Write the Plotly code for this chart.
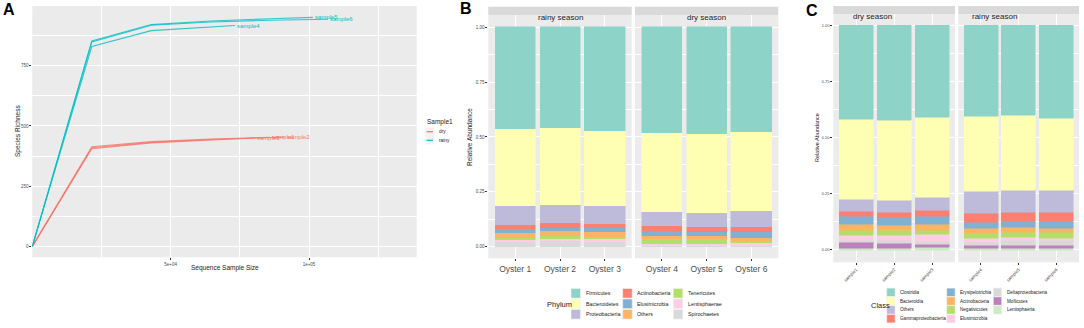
import plotly.graph_objects as go

W, H = 1084, 328
def px(x): return x / W
def py(y): return 1 - y / H

FONT = "Liberation Sans"
BG = "#EBEBEB"
TXT = "#1A1A1A"
TICKC = "#4D4D4D"

# ---------------- Panel A: rarefaction curves ----------------
season_colors = {"dry": "#F8766D", "rainy": "#00BFC4"}
rare_samples = ["sample1", "sample2", "sample3", "sample4", "sample5", "sample6"]
rare_season = ["dry", "dry", "dry", "rainy", "rainy", "rainy"]
s1_size = [1, 21501, 43001, 64501, 85800]
s1_rich = [1, 414, 435, 446, 453]
s2_size = [1, 21501, 43001, 64501, 86001, 91200]
s2_rich = [1, 410, 432, 444, 452, 454]
s3_size = [1, 21501, 43001, 64501, 80400]
s3_rich = [1, 406, 430, 442, 450]
s4_size = [1, 21501, 43001, 64501, 73200]
s4_rich = [1, 829, 895, 912, 916]
s5_size = [1, 21501, 43001, 64501, 86001, 101400]
s5_rich = [1, 852, 920, 935, 944, 950]
s6_size = [1, 21501, 43001, 64501, 86001, 106800]
s6_rich = [1, 848, 917, 931, 938, 942]
rare_sizes = [s1_size, s2_size, s3_size, s4_size, s5_size, s6_size]
rare_rich = [s1_rich, s2_rich, s3_rich, s4_rich, s5_rich, s6_rich]
a_xticks = [50000, 100000]
a_xticklabels = ["5e+04", "1e+05"]
a_yticks = [0, 250, 500, 750]

# ---------------- Panel B: phylum ----------------
b_seasons = ["rainy season", "dry season"]
b_samples = [["Oyster 1", "Oyster 2", "Oyster 3"], ["Oyster 4", "Oyster 5", "Oyster 6"]]
phyla = ["Firmicutes", "Bacteroidetes", "Proteobacteria", "Actinobacteria", "Elusimicrobia",
         "Others", "Tenericutes", "Lentisphaerae", "Spirochaetes"]
firmicutes     = [0.464, 0.457, 0.473, 0.480, 0.488, 0.476]
bacteroidetes  = [0.351, 0.353, 0.340, 0.360, 0.360, 0.360]
proteobacteria = [0.086, 0.083, 0.084, 0.066, 0.061, 0.073]
actinobacteria = [0.020, 0.020, 0.019, 0.024, 0.023, 0.023]
elusimicrobia  = [0.018, 0.017, 0.017, 0.021, 0.019, 0.027]
others_p       = [0.020, 0.021, 0.021, 0.014, 0.014, 0.014]
tenericutes    = [0.010, 0.012, 0.012, 0.023, 0.024, 0.012]
lentisphaerae  = [0.011, 0.011, 0.011, 0.009, 0.008, 0.012]
spirochaetes   = [0.020, 0.026, 0.023, 0.003, 0.003, 0.003]
phylum_values = [firmicutes, bacteroidetes, proteobacteria, actinobacteria, elusimicrobia,
                 others_p, tenericutes, lentisphaerae, spirochaetes]

# ---------------- Panel C: class ----------------
c_seasons = ["dry season", "rainy season"]
c_samples = [["sample1", "sample2", "sample3"], ["sample4", "sample5", "sample6"]]
classes = ["Clostridia", "Bacteroidia", "Others", "Gammaproteobacteria", "Erysipelotrichia",
           "Actinobacteria", "Negativicutes", "Elusimicrobia", "Deltaproteobacteria",
           "Mollicutes", "Lentisphaeria"]
clostridia   = [0.416, 0.422, 0.408, 0.406, 0.401, 0.413]
bacteroidia  = [0.357, 0.358, 0.357, 0.331, 0.332, 0.323]
others_c     = [0.053, 0.052, 0.057, 0.099, 0.099, 0.098]
gammaproteo  = [0.025, 0.022, 0.029, 0.042, 0.039, 0.040]
erysipelo    = [0.034, 0.035, 0.034, 0.027, 0.028, 0.029]
actino_c     = [0.029, 0.025, 0.026, 0.021, 0.022, 0.020]
negativicut  = [0.019, 0.019, 0.019, 0.022, 0.022, 0.023]
elusimic_c   = [0.022, 0.022, 0.030, 0.018, 0.016, 0.013]
deltaproteo  = [0.012, 0.015, 0.015, 0.015, 0.019, 0.019]
mollicutes   = [0.024, 0.021, 0.015, 0.011, 0.014, 0.014]
lentisphaer  = [0.009, 0.009, 0.010, 0.008, 0.008, 0.008]
class_values = [clostridia, bacteroidia, others_c, gammaproteo, erysipelo, actino_c,
                negativicut, elusimic_c, deltaproteo, mollicutes, lentisphaer]

set3 = ["#8DD3C7", "#FFFFB3", "#BEBADA", "#FB8072", "#80B1D3", "#FDB462",
        "#B3DE69", "#FCCDE5", "#D9D9D9", "#BC80BD", "#CCEBC5"]
rel_ticks = [0, 0.25, 0.5, 0.75, 1.0]
rel_ticklabels = ["0.00", "0.25", "0.50", "0.75", "1.00"]

fig = go.Figure()

# Panel A traces
for name, season, xs, ys in zip(rare_samples, rare_season, rare_sizes, rare_rich):
    col = season_colors[season]
    fig.add_trace(go.Scatter(x=xs, y=ys, mode="lines", xaxis="x", yaxis="y",
                             line=dict(color=col, width=1.1), opacity=0.8,
                             showlegend=False, hoverinfo="skip"))
annotations = []
for name, season, xs, ys in zip(rare_samples, rare_season, rare_sizes, rare_rich):
    annotations.append(dict(x=xs[-1], y=ys[-1], xref="x", yref="y", text=name,
                            showarrow=False, xanchor="left", yanchor="middle",
                            font=dict(size=6, color=season_colors[season], family=FONT)))

# Panel B bars (stack bottom -> top)
for k in range(len(phyla) - 1, -1, -1):
    vals = phylum_values[k]
    for f in range(2):
        fig.add_trace(go.Bar(x=b_samples[f], y=vals[3 * f:3 * f + 3],
                             xaxis="x2" if f == 0 else "x3", yaxis="y2" if f == 0 else "y3",
                             width=0.9, marker=dict(color=set3[k], line=dict(color=set3[k], width=0.5)),
                             showlegend=False, name=phyla[k]))
# Panel C bars
for k in range(len(classes) - 1, -1, -1):
    vals = class_values[k]
    for f in range(2):
        fig.add_trace(go.Bar(x=c_samples[f], y=vals[3 * f:3 * f + 3],
                             xaxis="x4" if f == 0 else "x5", yaxis="y4" if f == 0 else "y5",
                             width=0.9, marker=dict(color=set3[k], line=dict(color=set3[k], width=0.5)),
                             showlegend=False, name=classes[k]))

common_axis = dict(showline=False, zeroline=False, gridcolor="white", gridwidth=1,
                   ticks="outside", ticklen=2, tickcolor="#333333", tickwidth=0.6)

def cat_x(domain, anchor, cats, fontsize, angle=0):
    return dict(domain=domain, anchor=anchor, type="category", categoryorder="array",
                categoryarray=cats, range=[-0.6, 2.6], tickangle=angle,
                tickfont=dict(size=fontsize, color=TICKC, family=FONT), showgrid=True,
                fixedrange=True, **common_axis)

def rel_y(domain, anchor, show, rng, fontsize=4.5):
    d = dict(domain=domain, anchor=anchor, range=rng, tickvals=rel_ticks,
             ticktext=rel_ticklabels, showticklabels=show,
             tickfont=dict(size=fontsize, color=TICKC, family=FONT), showgrid=True,
             minor=dict(tickvals=[0.125, 0.375, 0.625, 0.875], showgrid=True,
                        gridcolor="white", gridwidth=0.5, ticks=""), **common_axis)
    if not show:
        d["ticks"] = ""
    return d

b_dom_y = [py(258.3), py(15)]
c_dom_y = [py(262.3), py(14.3)]
b_dom_x = [[px(488.3), px(631.7)], [px(635), px(778.3)]]
c_dom_x = [[px(833.3), px(955)], [px(958.3), px(1079)]]

layout = dict(
    width=W, height=H, margin=dict(l=0, r=0, t=0, b=0),
    paper_bgcolor="white", plot_bgcolor=BG, barmode="stack", bargap=0,
    showlegend=False, font=dict(family=FONT, color=TXT),
    xaxis=dict(domain=[px(32.3), px(416.7)], anchor="y", range=[0, 138900],
               tickvals=a_xticks, ticktext=a_xticklabels,
               tickfont=dict(size=4.5, color=TICKC, family=FONT), showgrid=True,
               minor=dict(tickvals=[25000, 75000, 125000], showgrid=True, gridcolor="white",
                          gridwidth=0.5, ticks=""), **common_axis),
    yaxis=dict(domain=[py(257.3), py(6)], anchor="x", range=[-44, 997],
               tickvals=a_yticks, ticktext=[str(v) for v in a_yticks],
               tickfont=dict(size=4.5, color=TICKC, family=FONT), showgrid=True,
               minor=dict(tickvals=[125, 375, 625, 875], showgrid=True, gridcolor="white",
                          gridwidth=0.5, ticks=""), **common_axis),
    xaxis2=cat_x(b_dom_x[0], "y2", b_samples[0], 8.5),
    xaxis3=cat_x(b_dom_x[1], "y3", b_samples[1], 8.5),
    yaxis2=rel_y(b_dom_y, "x2", True, [-0.0529, 1.056]),
    yaxis3=rel_y(b_dom_y, "x3", False, [-0.0529, 1.056]),
    xaxis4=cat_x(c_dom_x[0], "y4", c_samples[0], 4.5, angle=-45),
    xaxis5=cat_x(c_dom_x[1], "y5", c_samples[1], 4.5, angle=-45),
    yaxis4=rel_y(c_dom_y, "x4", True, [-0.055, 1.051], 4),
    yaxis5=rel_y(c_dom_y, "x5", False, [-0.055, 1.051], 4),
)

shapes = []
# strips
for dom, lab in zip(b_dom_x, b_seasons):
    shapes.append(dict(type="rect", xref="paper", yref="paper", x0=dom[0], x1=dom[1],
                       y0=py(15), y1=py(6.7), fillcolor="#D9D9D9", line=dict(width=0), layer="below"))
    annotations.append(dict(x=(dom[0] + dom[1]) / 2, y=py(10.8), xref="paper", yref="paper",
                            text=lab, showarrow=False, font=dict(size=8, color=TXT, family=FONT)))
for dom, lab in zip(c_dom_x, c_seasons):
    shapes.append(dict(type="rect", xref="paper", yref="paper", x0=dom[0], x1=dom[1],
                       y0=py(14.3), y1=py(6), fillcolor="#D9D9D9", line=dict(width=0), layer="below"))
    annotations.append(dict(x=(dom[0] + dom[1]) / 2, y=py(10.2), xref="paper", yref="paper",
                            text=lab, showarrow=False, font=dict(size=8, color=TXT, family=FONT)))

# axis titles
def txt(x, y, s, size, angle=0, xanchor="center", bold=False, color=TXT):
    annotations.append(dict(x=px(x), y=py(y), xref="paper", yref="paper",
                            text=f"<b>{s}</b>" if bold else s, showarrow=False, textangle=angle,
                            xanchor=xanchor, yanchor="middle",
                            font=dict(size=size, color=color, family=FONT)))

txt(18, 131, "Species Richness", 6.5, angle=-90)
txt(225, 267.5, "Sequence Sample Size", 6.5)
txt(469, 137, "Relative Abundance", 6.5, angle=-90)
txt(817, 138, "Relative Abundance", 5.5, angle=-90)
txt(9, 9, "A", 16, bold=True, color="black")
txt(466, 8.5, "B", 16, bold=True, color="black")
txt(812, 10, "C", 16, bold=True, color="black")

# Panel A legend
txt(425, 122.3, "Sample1", 6.5, xanchor="left")
for i, season in enumerate(["dry", "rainy"]):
    yc = 131.7 + 8.6 * i
    shapes.append(dict(type="rect", xref="paper", yref="paper", x0=px(425.5), x1=px(434),
                       y0=py(yc + 4.2), y1=py(yc - 4.2), fillcolor="#F2F2F2", line=dict(width=0)))
    shapes.append(dict(type="line", xref="paper", yref="paper", x0=px(426.5), x1=px(433),
                       y0=py(yc), y1=py(yc), line=dict(color=season_colors[season], width=1.2)))
    txt(436.5, yc, season, 4.8, xanchor="left")

# Panel B legend
txt(545, 304, "Phylum", 7.5, xanchor="left")
b_cols = [571, 622.7, 673.3]
for i, name in enumerate(phyla):
    c, r = divmod(i, 3)
    yc = 293.3 + 10.5 * r
    shapes.append(dict(type="rect", xref="paper", yref="paper", x0=px(b_cols[c]), x1=px(b_cols[c] + 9.5),
                       y0=py(yc + 4.8), y1=py(yc - 4.8), fillcolor=set3[i],
                       line=dict(color="#F2F2F2", width=0.6)))
    txt(b_cols[c] + 12.5, yc, name, 5.3, xanchor="left")

# Panel C legend
txt(869, 305.7, "Class", 7.5, xanchor="left")
c_cols = [886.7, 946.7, 993.3]
for i, name in enumerate(classes):
    c, r = divmod(i, 4)
    yc = 292.3 + 8.8 * r
    shapes.append(dict(type="rect", xref="paper", yref="paper", x0=px(c_cols[c]), x1=px(c_cols[c] + 8.4),
                       y0=py(yc + 4.2), y1=py(yc - 4.2), fillcolor=set3[i],
                       line=dict(color="#F2F2F2", width=0.6)))
    txt(c_cols[c] + 11.5, yc, name, 4.6, xanchor="left")

layout["shapes"] = shapes
layout["annotations"] = annotations
fig.update_layout(**layout)
fig.write_html("out.html", config={"displayModeBar": False},
               post_script="document.body.style.margin='0px';document.body.style.overflow='hidden';")
